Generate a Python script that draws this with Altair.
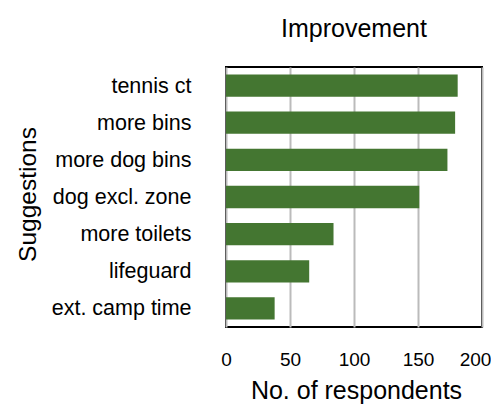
import altair as alt
import pandas as pd

categories = ["tennis ct", "more bins", "more dog bins", "dog excl. zone",
              "more toilets", "lifeguard", "ext. camp time"]
respondents = [181, 179, 173, 151, 84, 65, 38]

df = pd.DataFrame({"Suggestions": categories, "Respondents": respondents})

FONT = "Helvetica, Liberation Sans, Arial"

chart = alt.Chart(df).mark_bar(color="#447631").encode(
    x=alt.X("Respondents:Q", title="No. of respondents",
            scale=alt.Scale(domain=[0, 200], nice=False),
            axis=alt.Axis(values=[0, 50, 100, 150, 200], labelFontSize=19,
                          labelPadding=23, ticks=False, tickSize=0, domain=False,
                          labelOffset=alt.ExprRef("datum.value == 200 ? -7 : 0"),
                          grid=True, gridColor="#bbbbbb", gridWidth=2,
                          labelFlush=False, labelColor="#000000",
                          titleFontSize=25, titleFontWeight="normal",
                          titleColor="#000000", titleBaseline="alphabetic",
                          titleY=71, titleX=130)),
    y=alt.Y("Suggestions:N", sort=categories, title="Suggestions",
            scale=alt.Scale(paddingInner=0.4, paddingOuter=0.2),
            axis=alt.Axis(labelFontSize=21.5, labelPadding=35, labelOffset=1,
                          ticks=False, tickSize=0, domain=False, grid=False,
                          labelColor="#000000", labelLimit=300,
                          titleFontSize=24.5, titleFontWeight="normal",
                          titleColor="#000000", titleAngle=-90,
                          titleAlign="center", titleBaseline="middle",
                          titleX=-198, titleY=127)),
).properties(
    width=256, height=260,
    title=alt.TitleParams("Improvement", fontSize=25, fontWeight="normal",
                          font=FONT, color="#000000", anchor="middle",
                          baseline="alphabetic", offset=5),
    autosize=alt.AutoSizeParams(type="none"),
    padding={"left": 218, "top": 59, "right": 9, "bottom": 77},
).configure(font=FONT).configure_view(
    stroke="#000000", strokeWidth=2
).configure_axis(labelFont=FONT, titleFont=FONT)

chart.save("out.html", embed_options={"renderer": "svg", "actions": False})
